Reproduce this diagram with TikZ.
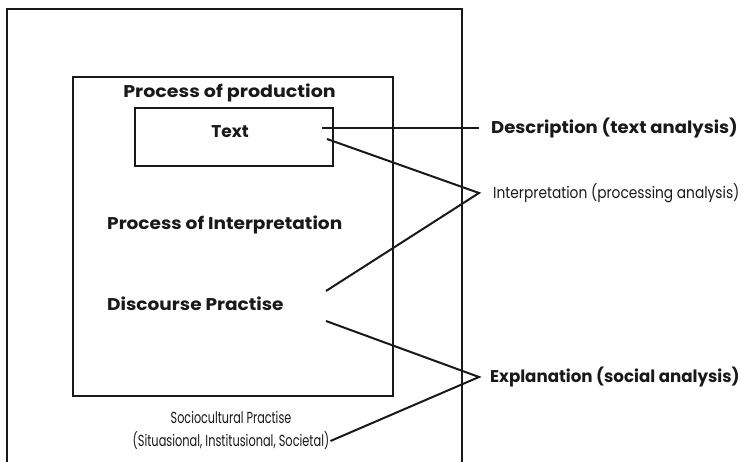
\documentclass[tikz,border=0pt]{standalone}
\usepackage{fontspec}
\setmainfont{Poppins}
\begin{document}
\begin{tikzpicture}[x=1pt,y=-1pt,
  frame/.style={draw=black!90,line width=2.2pt},
  conn/.style={draw=black!90,line width=2pt},
  big/.style={inner sep=0pt,text=black!90,font=\fontsize{17}{19}\selectfont\bfseries},
  small/.style={inner sep=0pt,text=black!90,font=\fontsize{16}{18}\selectfont},
  boxnode/.style={frame,inner sep=0pt}]
\useasboundingbox (0,0) rectangle (743,462);
% outer frame (bottom runs off the picture)
\draw[frame] (7,470) -- (7,9) -- (462,9) -- (462,470);
% inner frame and text box
\node[boxnode,minimum width=320pt,minimum height=319pt] (inner) at (233,236.5) {};
\node[boxnode,minimum width=198pt,minimum height=58pt] (textbox) at (234,137) {};
% labels inside
\node[big] (prod) at (229.5,93) {\scalebox{1.12}[1]{Process of production}};
\node[big] (text) at (230,132) {Text};
\node[big,anchor=west] (pinterp) at (107,225) {\scalebox{1.09}[1]{Process of Interpretation}};
\node[big,anchor=west] (disc) at (107,304) {\scalebox{1.09}[1]{Discourse Practise}};
\node[small] (soc1) at (231,417) {\scalebox{0.70}[1]{Sociocultural Practise}};
\node[small] (soc2) at (231,441) {\scalebox{0.71}[1]{(Situasional, Institusional, Societal)}};
% labels right
\node[big,anchor=west] (descr) at (491,128) {\scalebox{1.06}[1]{Description (text analysis)}};
\node[small,anchor=west] (interp) at (493,193) {\scalebox{0.86}[1]{Interpretation (processing analysis)}};
\node[big,anchor=west] (expl) at (490,377) {\scalebox{0.98}[1]{Explanation (social analysis)}};
% connector end points
\coordinate (d1) at (322,128);
\coordinate (i1) at (327,139);
\coordinate (i2) at (326,291);
\coordinate (e1) at (326,321);
\coordinate (dv) at ([xshift=-12pt]descr.west);
\coordinate (iv) at ([xshift=-14pt]interp.west);
\coordinate (ev) at ([xshift=-11pt]expl.west);
% connectors
\draw[conn] (d1) -- (dv);
\draw[conn] (i1) -- (iv) -- (i2);
\draw[conn] (e1) -- (ev) -- ([xshift=1pt]soc2.east);
\end{tikzpicture}
\end{document}
